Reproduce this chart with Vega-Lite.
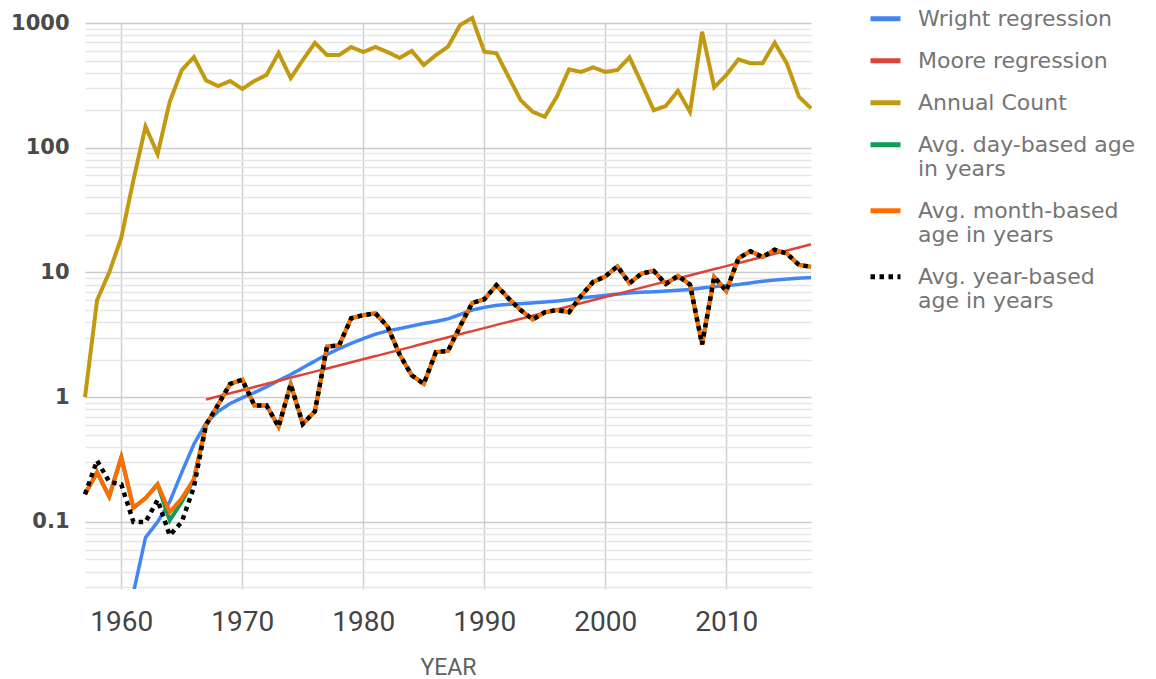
{
"$schema": "https://vega.github.io/schema/vega-lite/v6.json",
"width": 726, "height": 566,
"autosize": {"type": "none"},
"padding": {"left": 85, "top": 23, "right": 345, "bottom": 90},
"background": "white",
"config": {
  "view": {"stroke": null}
},
"datasets": {
"d": [
{"year":1957,"series":"Annual Count","value":1},{"year":1958,"series":"Annual Count","value":6},{"year":1959,"series":"Annual Count","value":10},{"year":1960,"series":"Annual Count","value":19},{"year":1961,"series":"Annual Count","value":55},{"year":1962,"series":"Annual Count","value":148},{"year":1963,"series":"Annual Count","value":89},{"year":1964,"series":"Annual Count","value":233},{"year":1965,"series":"Annual Count","value":420},{"year":1966,"series":"Annual Count","value":533},{"year":1967,"series":"Annual Count","value":347},{"year":1968,"series":"Annual Count","value":312},{"year":1969,"series":"Annual Count","value":343},{"year":1970,"series":"Annual Count","value":296},{"year":1971,"series":"Annual Count","value":343},{"year":1972,"series":"Annual Count","value":383},{"year":1973,"series":"Annual Count","value":575},{"year":1974,"series":"Annual Count","value":362},{"year":1975,"series":"Annual Count","value":505},{"year":1976,"series":"Annual Count","value":693},{"year":1977,"series":"Annual Count","value":553},{"year":1978,"series":"Annual Count","value":553},{"year":1979,"series":"Annual Count","value":642},{"year":1980,"series":"Annual Count","value":585},{"year":1981,"series":"Annual Count","value":642},{"year":1982,"series":"Annual Count","value":585},{"year":1983,"series":"Annual Count","value":525},{"year":1984,"series":"Annual Count","value":598},{"year":1985,"series":"Annual Count","value":460},{"year":1986,"series":"Annual Count","value":553},{"year":1987,"series":"Annual Count","value":646},{"year":1988,"series":"Annual Count","value":964},{"year":1989,"series":"Annual Count","value":1096},{"year":1990,"series":"Annual Count","value":589},{"year":1991,"series":"Annual Count","value":572},{"year":1992,"series":"Annual Count","value":371},{"year":1993,"series":"Annual Count","value":241},{"year":1994,"series":"Annual Count","value":194},{"year":1995,"series":"Annual Count","value":177},{"year":1996,"series":"Annual Count","value":257},{"year":1997,"series":"Annual Count","value":425},{"year":1998,"series":"Annual Count","value":405},{"year":1999,"series":"Annual Count","value":441},{"year":2000,"series":"Annual Count","value":405},{"year":2001,"series":"Annual Count","value":420},{"year":2002,"series":"Annual Count","value":531},{"year":2003,"series":"Annual Count","value":328},{"year":2004,"series":"Annual Count","value":200},{"year":2005,"series":"Annual Count","value":216},{"year":2006,"series":"Annual Count","value":286},{"year":2007,"series":"Annual Count","value":194},{"year":2008,"series":"Annual Count","value":851},{"year":2009,"series":"Annual Count","value":305},{"year":2010,"series":"Annual Count","value":383},{"year":2011,"series":"Annual Count","value":511},{"year":2012,"series":"Annual Count","value":475},{"year":2013,"series":"Annual Count","value":475},{"year":2014,"series":"Annual Count","value":695},{"year":2015,"series":"Annual Count","value":475},{"year":2016,"series":"Annual Count","value":257},{"year":2017,"series":"Annual Count","value":207},

{"year":1961,"series":"Wright regression","value":0.027},{"year":1962,"series":"Wright regression","value":0.075},{"year":1963,"series":"Wright regression","value":0.1},{"year":1964,"series":"Wright regression","value":0.145},{"year":1965,"series":"Wright regression","value":0.25},{"year":1966,"series":"Wright regression","value":0.42},{"year":1967,"series":"Wright regression","value":0.62},{"year":1968,"series":"Wright regression","value":0.77},{"year":1969,"series":"Wright regression","value":0.89},{"year":1970,"series":"Wright regression","value":0.99},{"year":1971,"series":"Wright regression","value":1.09},{"year":1972,"series":"Wright regression","value":1.21},{"year":1973,"series":"Wright regression","value":1.36},{"year":1974,"series":"Wright regression","value":1.52},{"year":1975,"series":"Wright regression","value":1.72},{"year":1976,"series":"Wright regression","value":1.95},{"year":1977,"series":"Wright regression","value":2.2},{"year":1978,"series":"Wright regression","value":2.45},{"year":1979,"series":"Wright regression","value":2.7},{"year":1980,"series":"Wright regression","value":2.95},{"year":1981,"series":"Wright regression","value":3.2},{"year":1982,"series":"Wright regression","value":3.4},{"year":1983,"series":"Wright regression","value":3.55},{"year":1984,"series":"Wright regression","value":3.72},{"year":1985,"series":"Wright regression","value":3.9},{"year":1986,"series":"Wright regression","value":4.05},{"year":1987,"series":"Wright regression","value":4.25},{"year":1988,"series":"Wright regression","value":4.6},{"year":1989,"series":"Wright regression","value":5.0},{"year":1990,"series":"Wright regression","value":5.25},{"year":1991,"series":"Wright regression","value":5.45},{"year":1992,"series":"Wright regression","value":5.55},{"year":1993,"series":"Wright regression","value":5.62},{"year":1994,"series":"Wright regression","value":5.7},{"year":1995,"series":"Wright regression","value":5.8},{"year":1996,"series":"Wright regression","value":5.9},{"year":1997,"series":"Wright regression","value":6.05},{"year":1998,"series":"Wright regression","value":6.25},{"year":1999,"series":"Wright regression","value":6.4},{"year":2000,"series":"Wright regression","value":6.55},{"year":2001,"series":"Wright regression","value":6.7},{"year":2002,"series":"Wright regression","value":6.85},{"year":2003,"series":"Wright regression","value":6.95},{"year":2004,"series":"Wright regression","value":7.0},{"year":2005,"series":"Wright regression","value":7.1},{"year":2006,"series":"Wright regression","value":7.2},{"year":2007,"series":"Wright regression","value":7.3},{"year":2008,"series":"Wright regression","value":7.5},{"year":2009,"series":"Wright regression","value":7.7},{"year":2010,"series":"Wright regression","value":7.85},{"year":2011,"series":"Wright regression","value":8.0},{"year":2012,"series":"Wright regression","value":8.25},{"year":2013,"series":"Wright regression","value":8.5},{"year":2014,"series":"Wright regression","value":8.7},{"year":2015,"series":"Wright regression","value":8.85},{"year":2016,"series":"Wright regression","value":9.0},{"year":2017,"series":"Wright regression","value":9.1},

{"year":1967,"series":"Moore regression","value":0.96},{"year":1972,"series":"Moore regression","value":1.28},{"year":1977,"series":"Moore regression","value":1.7},{"year":1982,"series":"Moore regression","value":2.26},{"year":1987,"series":"Moore regression","value":3.02},{"year":1992,"series":"Moore regression","value":4.02},{"year":1997,"series":"Moore regression","value":5.35},{"year":2002,"series":"Moore regression","value":7.13},{"year":2007,"series":"Moore regression","value":9.49},{"year":2012,"series":"Moore regression","value":12.6},{"year":2017,"series":"Moore regression","value":16.8},

{"year":1957,"series":"Avg. day-based age in years","value":0.167},{"year":1958,"series":"Avg. day-based age in years","value":0.25},{"year":1959,"series":"Avg. day-based age in years","value":0.16},{"year":1960,"series":"Avg. day-based age in years","value":0.33},{"year":1961,"series":"Avg. day-based age in years","value":0.13},{"year":1962,"series":"Avg. day-based age in years","value":0.155},{"year":1963,"series":"Avg. day-based age in years","value":0.2},{"year":1964,"series":"Avg. day-based age in years","value":0.103},{"year":1965,"series":"Avg. day-based age in years","value":0.145},{"year":1966,"series":"Avg. day-based age in years","value":0.22},{"year":1967,"series":"Avg. day-based age in years","value":0.6},{"year":1968,"series":"Avg. day-based age in years","value":0.87},{"year":1969,"series":"Avg. day-based age in years","value":1.28},{"year":1970,"series":"Avg. day-based age in years","value":1.38},{"year":1971,"series":"Avg. day-based age in years","value":0.86},{"year":1972,"series":"Avg. day-based age in years","value":0.86},{"year":1973,"series":"Avg. day-based age in years","value":0.58},{"year":1974,"series":"Avg. day-based age in years","value":1.27},{"year":1975,"series":"Avg. day-based age in years","value":0.61},{"year":1976,"series":"Avg. day-based age in years","value":0.77},{"year":1977,"series":"Avg. day-based age in years","value":2.55},{"year":1978,"series":"Avg. day-based age in years","value":2.6},{"year":1979,"series":"Avg. day-based age in years","value":4.3},{"year":1980,"series":"Avg. day-based age in years","value":4.55},{"year":1981,"series":"Avg. day-based age in years","value":4.7},{"year":1982,"series":"Avg. day-based age in years","value":3.7},{"year":1983,"series":"Avg. day-based age in years","value":2.2},{"year":1984,"series":"Avg. day-based age in years","value":1.5},{"year":1985,"series":"Avg. day-based age in years","value":1.28},{"year":1986,"series":"Avg. day-based age in years","value":2.3},{"year":1987,"series":"Avg. day-based age in years","value":2.35},{"year":1988,"series":"Avg. day-based age in years","value":3.7},{"year":1989,"series":"Avg. day-based age in years","value":5.7},{"year":1990,"series":"Avg. day-based age in years","value":6.1},{"year":1991,"series":"Avg. day-based age in years","value":7.9},{"year":1992,"series":"Avg. day-based age in years","value":6.2},{"year":1993,"series":"Avg. day-based age in years","value":5.0},{"year":1994,"series":"Avg. day-based age in years","value":4.2},{"year":1995,"series":"Avg. day-based age in years","value":4.8},{"year":1996,"series":"Avg. day-based age in years","value":5.0},{"year":1997,"series":"Avg. day-based age in years","value":4.8},{"year":1998,"series":"Avg. day-based age in years","value":6.5},{"year":1999,"series":"Avg. day-based age in years","value":8.4},{"year":2000,"series":"Avg. day-based age in years","value":9.3},{"year":2001,"series":"Avg. day-based age in years","value":11.2},{"year":2002,"series":"Avg. day-based age in years","value":8.2},{"year":2003,"series":"Avg. day-based age in years","value":9.8},{"year":2004,"series":"Avg. day-based age in years","value":10.3},{"year":2005,"series":"Avg. day-based age in years","value":8.1},{"year":2006,"series":"Avg. day-based age in years","value":9.4},{"year":2007,"series":"Avg. day-based age in years","value":8.0},{"year":2008,"series":"Avg. day-based age in years","value":2.65},{"year":2009,"series":"Avg. day-based age in years","value":9.2},{"year":2010,"series":"Avg. day-based age in years","value":7.1},{"year":2011,"series":"Avg. day-based age in years","value":13.0},{"year":2012,"series":"Avg. day-based age in years","value":14.8},{"year":2013,"series":"Avg. day-based age in years","value":13.3},{"year":2014,"series":"Avg. day-based age in years","value":15.2},{"year":2015,"series":"Avg. day-based age in years","value":14.2},{"year":2016,"series":"Avg. day-based age in years","value":11.5},{"year":2017,"series":"Avg. day-based age in years","value":11.1},

{"year":1957,"series":"Avg. month-based age in years","value":0.167},{"year":1958,"series":"Avg. month-based age in years","value":0.25},{"year":1959,"series":"Avg. month-based age in years","value":0.16},{"year":1960,"series":"Avg. month-based age in years","value":0.33},{"year":1961,"series":"Avg. month-based age in years","value":0.13},{"year":1962,"series":"Avg. month-based age in years","value":0.155},{"year":1963,"series":"Avg. month-based age in years","value":0.2},{"year":1964,"series":"Avg. month-based age in years","value":0.12},{"year":1965,"series":"Avg. month-based age in years","value":0.155},{"year":1966,"series":"Avg. month-based age in years","value":0.22},{"year":1967,"series":"Avg. month-based age in years","value":0.6},{"year":1968,"series":"Avg. month-based age in years","value":0.87},{"year":1969,"series":"Avg. month-based age in years","value":1.28},{"year":1970,"series":"Avg. month-based age in years","value":1.38},{"year":1971,"series":"Avg. month-based age in years","value":0.86},{"year":1972,"series":"Avg. month-based age in years","value":0.86},{"year":1973,"series":"Avg. month-based age in years","value":0.58},{"year":1974,"series":"Avg. month-based age in years","value":1.27},{"year":1975,"series":"Avg. month-based age in years","value":0.61},{"year":1976,"series":"Avg. month-based age in years","value":0.77},{"year":1977,"series":"Avg. month-based age in years","value":2.55},{"year":1978,"series":"Avg. month-based age in years","value":2.6},{"year":1979,"series":"Avg. month-based age in years","value":4.3},{"year":1980,"series":"Avg. month-based age in years","value":4.55},{"year":1981,"series":"Avg. month-based age in years","value":4.7},{"year":1982,"series":"Avg. month-based age in years","value":3.7},{"year":1983,"series":"Avg. month-based age in years","value":2.2},{"year":1984,"series":"Avg. month-based age in years","value":1.5},{"year":1985,"series":"Avg. month-based age in years","value":1.28},{"year":1986,"series":"Avg. month-based age in years","value":2.3},{"year":1987,"series":"Avg. month-based age in years","value":2.35},{"year":1988,"series":"Avg. month-based age in years","value":3.7},{"year":1989,"series":"Avg. month-based age in years","value":5.7},{"year":1990,"series":"Avg. month-based age in years","value":6.1},{"year":1991,"series":"Avg. month-based age in years","value":7.9},{"year":1992,"series":"Avg. month-based age in years","value":6.2},{"year":1993,"series":"Avg. month-based age in years","value":5.0},{"year":1994,"series":"Avg. month-based age in years","value":4.2},{"year":1995,"series":"Avg. month-based age in years","value":4.8},{"year":1996,"series":"Avg. month-based age in years","value":5.0},{"year":1997,"series":"Avg. month-based age in years","value":4.8},{"year":1998,"series":"Avg. month-based age in years","value":6.5},{"year":1999,"series":"Avg. month-based age in years","value":8.4},{"year":2000,"series":"Avg. month-based age in years","value":9.3},{"year":2001,"series":"Avg. month-based age in years","value":11.2},{"year":2002,"series":"Avg. month-based age in years","value":8.2},{"year":2003,"series":"Avg. month-based age in years","value":9.8},{"year":2004,"series":"Avg. month-based age in years","value":10.3},{"year":2005,"series":"Avg. month-based age in years","value":8.1},{"year":2006,"series":"Avg. month-based age in years","value":9.4},{"year":2007,"series":"Avg. month-based age in years","value":8.0},{"year":2008,"series":"Avg. month-based age in years","value":2.65},{"year":2009,"series":"Avg. month-based age in years","value":9.2},{"year":2010,"series":"Avg. month-based age in years","value":7.1},{"year":2011,"series":"Avg. month-based age in years","value":13.0},{"year":2012,"series":"Avg. month-based age in years","value":14.8},{"year":2013,"series":"Avg. month-based age in years","value":13.3},{"year":2014,"series":"Avg. month-based age in years","value":15.2},{"year":2015,"series":"Avg. month-based age in years","value":14.2},{"year":2016,"series":"Avg. month-based age in years","value":11.5},{"year":2017,"series":"Avg. month-based age in years","value":11.1},

{"year":1957,"series":"Avg. year-based age in years","value":0.167},{"year":1958,"series":"Avg. year-based age in years","value":0.31},{"year":1959,"series":"Avg. year-based age in years","value":0.21},{"year":1960,"series":"Avg. year-based age in years","value":0.2},{"year":1961,"series":"Avg. year-based age in years","value":0.1},{"year":1962,"series":"Avg. year-based age in years","value":0.1},{"year":1963,"series":"Avg. year-based age in years","value":0.15},{"year":1964,"series":"Avg. year-based age in years","value":0.078},{"year":1965,"series":"Avg. year-based age in years","value":0.1},{"year":1966,"series":"Avg. year-based age in years","value":0.19},{"year":1967,"series":"Avg. year-based age in years","value":0.6},{"year":1968,"series":"Avg. year-based age in years","value":0.87},{"year":1969,"series":"Avg. year-based age in years","value":1.28},{"year":1970,"series":"Avg. year-based age in years","value":1.38},{"year":1971,"series":"Avg. year-based age in years","value":0.86},{"year":1972,"series":"Avg. year-based age in years","value":0.86},{"year":1973,"series":"Avg. year-based age in years","value":0.58},{"year":1974,"series":"Avg. year-based age in years","value":1.27},{"year":1975,"series":"Avg. year-based age in years","value":0.61},{"year":1976,"series":"Avg. year-based age in years","value":0.77},{"year":1977,"series":"Avg. year-based age in years","value":2.55},{"year":1978,"series":"Avg. year-based age in years","value":2.6},{"year":1979,"series":"Avg. year-based age in years","value":4.3},{"year":1980,"series":"Avg. year-based age in years","value":4.55},{"year":1981,"series":"Avg. year-based age in years","value":4.7},{"year":1982,"series":"Avg. year-based age in years","value":3.7},{"year":1983,"series":"Avg. year-based age in years","value":2.2},{"year":1984,"series":"Avg. year-based age in years","value":1.5},{"year":1985,"series":"Avg. year-based age in years","value":1.28},{"year":1986,"series":"Avg. year-based age in years","value":2.3},{"year":1987,"series":"Avg. year-based age in years","value":2.35},{"year":1988,"series":"Avg. year-based age in years","value":3.7},{"year":1989,"series":"Avg. year-based age in years","value":5.7},{"year":1990,"series":"Avg. year-based age in years","value":6.1},{"year":1991,"series":"Avg. year-based age in years","value":7.9},{"year":1992,"series":"Avg. year-based age in years","value":6.2},{"year":1993,"series":"Avg. year-based age in years","value":5.0},{"year":1994,"series":"Avg. year-based age in years","value":4.2},{"year":1995,"series":"Avg. year-based age in years","value":4.8},{"year":1996,"series":"Avg. year-based age in years","value":5.0},{"year":1997,"series":"Avg. year-based age in years","value":4.8},{"year":1998,"series":"Avg. year-based age in years","value":6.5},{"year":1999,"series":"Avg. year-based age in years","value":8.4},{"year":2000,"series":"Avg. year-based age in years","value":9.3},{"year":2001,"series":"Avg. year-based age in years","value":11.2},{"year":2002,"series":"Avg. year-based age in years","value":8.2},{"year":2003,"series":"Avg. year-based age in years","value":9.8},{"year":2004,"series":"Avg. year-based age in years","value":10.3},{"year":2005,"series":"Avg. year-based age in years","value":8.1},{"year":2006,"series":"Avg. year-based age in years","value":9.4},{"year":2007,"series":"Avg. year-based age in years","value":8.0},{"year":2008,"series":"Avg. year-based age in years","value":2.65},{"year":2009,"series":"Avg. year-based age in years","value":9.2},{"year":2010,"series":"Avg. year-based age in years","value":7.1},{"year":2011,"series":"Avg. year-based age in years","value":13.0},{"year":2012,"series":"Avg. year-based age in years","value":14.8},{"year":2013,"series":"Avg. year-based age in years","value":13.3},{"year":2014,"series":"Avg. year-based age in years","value":15.2},{"year":2015,"series":"Avg. year-based age in years","value":14.2},{"year":2016,"series":"Avg. year-based age in years","value":11.5},{"year":2017,"series":"Avg. year-based age in years","value":11.1}
]
},
"data": {"name": "d"},
"encoding": {
  "x": {"field": "year", "type": "quantitative",
    "scale": {"domain": [1957, 2017], "nice": false, "zero": false},
    "axis": {"values": [1960, 1970, 1980, 1990, 2000, 2010], "format": "d", "grid": true, "gridColor": "#cfcfcf", "gridWidth": 1.5,
      "ticks": false, "domain": false, "labelFont": "Roboto", "labelFontSize": 28, "labelColor": "#444444", "labelPadding": 19, "labelFlush": false,
      "title": "YEAR", "titleFont": "Roboto", "titleFontSize": 23, "titleFontWeight": "normal", "titleColor": "#616161", "titlePadding": 20}},
  "y": {"field": "value", "type": "quantitative",
    "scale": {"type": "log", "domain": [0.029, 1000], "nice": false},
    "axis": {"values": [0.03,0.04,0.05,0.06,0.07,0.08,0.09,0.1,0.2,0.3,0.4,0.5,0.6,0.7,0.8,0.9,1,2,3,4,5,6,7,8,9,10,20,30,40,50,60,70,80,90,100,200,300,400,500,600,700,800,900,1000],
      "labelExpr": "indexof([0.1,1,10,100,1000], datum.value) >= 0 ? (datum.value < 1 ? '0.1' : format(datum.value, 'd')) : ''",
      "labelOverlap": false, "labelFlush": false, "ticks": false, "domain": false, "grid": true,
      "gridColor": {"condition": {"test": "indexof([0.1,1,10,100,1000], datum.value) >= 0", "value": "#cccccc"}, "value": "#e6e6e6"},
      "gridWidth": 1.5,
      "labelFont": "DejaVu Sans", "labelFontWeight": "bold", "labelFontSize": 21, "labelColor": "#4a4a4a", "labelPadding": 16, "title": null}},
  "color": {"field": "series", "type": "nominal",
    "scale": {"domain": ["Wright regression", "Moore regression", "Annual Count", "Avg. day-based age in years", "Avg. month-based age in years", "Avg. year-based age in years"],
      "range": ["#4285F4", "#DB4437", "#C29A12", "#0F9D58", "#FF6D01", "#000000"]},
    "legend": {"title": null, "orient": "none", "legendX": 783, "legendY": -15, "padding": 0,
      "symbolType": "M-1,-0.45L1,-0.45", "symbolSize": 900, "symbolStrokeWidth": 5,
      "labelFont": "DejaVu Sans", "labelFontSize": 22, "labelColor": "#757575", "labelLimit": 320,
      "labelOffset": 15, "labelBaseline": "alphabetic", "rowPadding": 19,
      "labelExpr": "datum.label == 'Avg. day-based age in years' ? ['Avg. day-based age','in years'] : datum.label == 'Avg. month-based age in years' ? ['Avg. month-based','age in years'] : datum.label == 'Avg. year-based age in years' ? ['Avg. year-based','age in years'] : datum.label"}},
  "strokeDash": {"field": "series", "type": "nominal",
    "scale": {"domain": ["Wright regression", "Moore regression", "Annual Count", "Avg. day-based age in years", "Avg. month-based age in years", "Avg. year-based age in years"],
      "range": [[1,0],[1,0],[1,0],[1,0],[1,0],[4.5,4.5]]},
    "legend": {"title": null, "orient": "none", "legendX": 783, "legendY": -15, "padding": 0,
      "symbolType": "M-1,-0.45L1,-0.45", "symbolSize": 900, "symbolStrokeWidth": 5,
      "labelFont": "DejaVu Sans", "labelFontSize": 22, "labelColor": "#757575", "labelLimit": 320,
      "labelOffset": 15, "labelBaseline": "alphabetic", "rowPadding": 19,
      "labelExpr": "datum.label == 'Avg. day-based age in years' ? ['Avg. day-based age','in years'] : datum.label == 'Avg. month-based age in years' ? ['Avg. month-based','age in years'] : datum.label == 'Avg. year-based age in years' ? ['Avg. year-based','age in years'] : datum.label"}}
},
"layer": [
  {"transform": [{"filter": "datum.series === 'Wright regression'"}], "mark": {"type": "line", "strokeWidth": 3.5, "clip": true}},
  {"transform": [{"filter": "datum.series === 'Moore regression'"}], "mark": {"type": "line", "strokeWidth": 2.5}},
  {"transform": [{"filter": "datum.series === 'Annual Count'"}], "mark": {"type": "line", "strokeWidth": 4}},
  {"transform": [{"filter": "datum.series === 'Avg. day-based age in years'"}], "mark": {"type": "line", "strokeWidth": 4}},
  {"transform": [{"filter": "datum.series === 'Avg. month-based age in years'"}], "mark": {"type": "line", "strokeWidth": 4}},
  {"transform": [{"filter": "datum.series === 'Avg. year-based age in years'"}], "mark": {"type": "line", "strokeWidth": 4.5, "strokeCap": "butt"}}
]
}
